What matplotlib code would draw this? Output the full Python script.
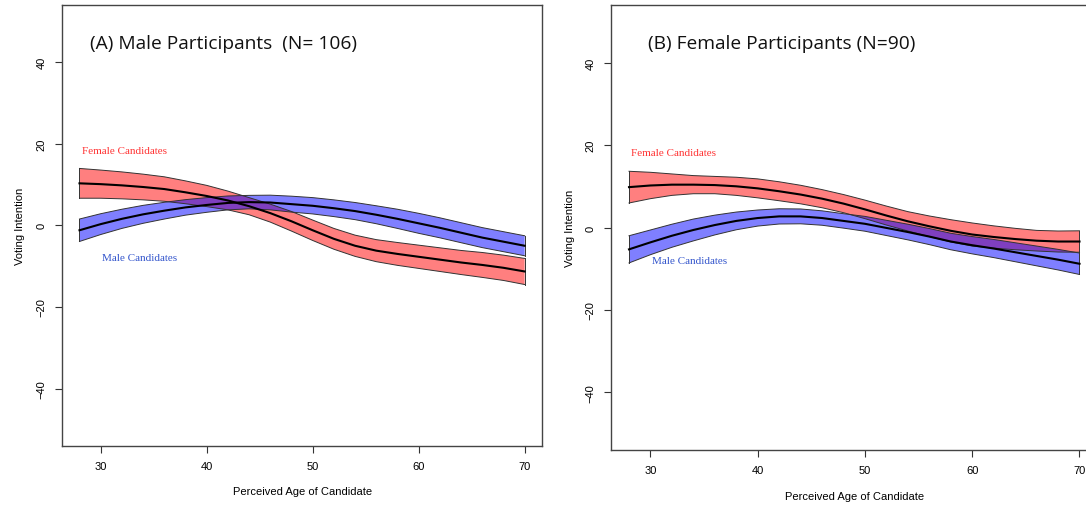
import matplotlib.pyplot as plt
import numpy as np

# perceived age grid (years)
age = [28, 30, 32, 34, 36, 38, 40, 42, 44, 46, 48, 50, 52, 54, 56, 58, 60, 62, 64, 66, 68, 70]

# (A) male participants
a_fem_mean = [10.3, 10.1, 9.8, 9.4, 8.9, 8.1, 7.2, 6.1, 4.7, 3.0, 1.0, -1.2, -3.3, -5.0, -6.2, -7.0,
              -7.7, -8.4, -9.1, -9.7, -10.4, -11.3]
a_fem_half = [3.65, 3.45, 3.3, 3.15, 3.0, 2.8, 2.6, 2.3, 2.1, 2.2, 2.4, 2.5, 2.55, 2.6, 2.7, 2.8,
              2.85, 2.9, 2.95, 3.05, 3.1, 3.2]
a_male_mean = [-1.2, 0.3, 1.6, 2.7, 3.6, 4.4, 5.0, 5.5, 5.7, 5.6, 5.2, 4.8, 4.2, 3.5, 2.6, 1.6,
               0.5, -0.6, -1.8, -3.0, -4.0, -5.0]
a_male_half = [2.75, 2.55, 2.35, 2.2, 2.05, 1.9, 1.8, 1.7, 1.65, 1.8, 1.95, 2.0, 2.05, 2.1, 2.2, 2.35,
               2.45, 2.45, 2.45, 2.45, 2.45, 2.45]

# (B) female participants
b_fem_mean = [9.8, 10.2, 10.4, 10.4, 10.3, 10.0, 9.5, 8.8, 8.0, 7.0, 5.8, 4.4, 2.9, 1.5, 0.3, -0.8,
              -1.7, -2.3, -2.8, -3.2, -3.4, -3.4]
b_fem_half = [3.85, 3.2, 2.6, 2.2, 2.1, 2.2, 2.3, 2.3, 2.25, 2.2, 2.2, 2.25, 2.3, 2.35, 2.5, 2.7,
              2.8, 2.7, 2.6, 2.5, 2.55, 2.6]
b_male_mean = [-5.3, -3.6, -2.0, -0.6, 0.6, 1.6, 2.3, 2.7, 2.7, 2.3, 1.6, 0.9, -0.1, -1.1, -2.2, -3.4,
               -4.3, -5.1, -6.0, -6.9, -7.8, -8.8]
b_male_half = [3.3, 3.0, 2.8, 2.65, 2.4, 2.15, 1.95, 1.85, 1.8, 1.75, 1.75, 1.8, 1.85, 1.9, 1.95, 2.0,
               2.1, 2.2, 2.3, 2.4, 2.5, 2.6]

panels = [
    ("(A) Male Participants  (N= 106)", a_fem_mean, a_fem_half, a_male_mean, a_male_half,
     [0.0568, 0.1172, 0.4427, 0.8709], 0.059),
    ("(B) Female Participants (N=90)", b_fem_mean, b_fem_half, b_male_mean, b_male_half,
     [0.5626, 0.1087, 0.4480, 0.8794], 0.076),
]

plt.rcParams['font.family'] = ['Liberation Sans', 'DejaVu Sans']
fig = plt.figure(figsize=(10.86, 5.06), dpi=100)


def band(ax, x, m, h, fill):
    ax.fill_between(x, m - h, m + h, facecolor=fill, alpha=0.5, lw=0)
    edge = dict(color='#333333', lw=0.7)
    ax.plot(x, m + h, **edge)
    ax.plot(x, m - h, **edge)
    ax.plot([x[0], x[0]], [m[0] - h[0], m[0] + h[0]], **edge)
    ax.plot([x[-1], x[-1]], [m[-1] - h[-1], m[-1] + h[-1]], **edge)


for title, fm, fh, mm, mh, pos, tx in panels:
    ax = fig.add_axes(pos)
    x = np.array(age)
    fm, fh, mm, mh = map(np.array, (fm, fh, mm, mh))

    band(ax, x, fm, fh, '#ff0000')
    band(ax, x, mm, mh, '#0000ff')
    ax.plot(x, fm, color='black', lw=1.5)
    ax.plot(x, mm, color='black', lw=1.5)

    ax.text(28.2, 18.3, 'Female Candidates', color='#ff3333', fontsize=8,
            family=['Liberation Serif'], va='center', ha='left')
    ax.text(30.1, -7.9, 'Male Candidates', color='#3355cc', fontsize=8,
            family=['Liberation Serif'], va='center', ha='left')
    ax.text(tx, 0.914, title, transform=ax.transAxes, fontsize=13.8,
            family=['Open Sans', 'DejaVu Sans'], va='center', ha='left', color='#111111')

    ax.set_xlim(26.32, 71.68)
    ax.set_ylim(-54, 54)
    ax.set_xticks([30, 40, 50, 60, 70])
    ax.set_yticks([-40, -20, 0, 20, 40])
    ax.set_yticklabels(['\u221240', '\u221220', '0', '20', '40'], rotation=90, va='center')
    ax.tick_params(labelsize=8, length=5, width=0.8, color='#333333', pad=6)
    ax.set_xlabel('Perceived Age of Candidate', fontsize=8, labelpad=11)
    ax.set_ylabel('Voting Intention', fontsize=8, labelpad=8)
    for s in ax.spines.values():
        s.set_color('#444444')
        s.set_linewidth(1.0)

plt.savefig('out.png', dpi=100)
